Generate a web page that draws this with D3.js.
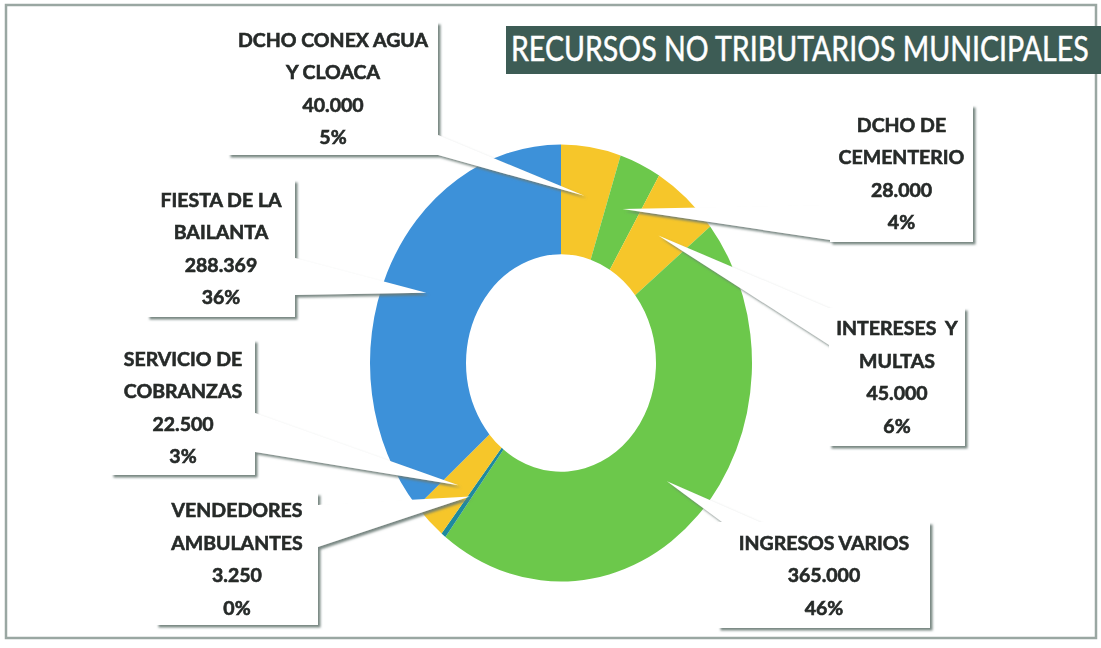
<!DOCTYPE html>
<html>
<head>
<meta charset="utf-8">
<script src="https://cdn.jsdelivr.net/npm/d3@7"></script>
<style>
  html, body { margin: 0; padding: 0; background: #ffffff; }
  svg { display: block; }
</style>
</head>
<body>
<svg id="chart" width="1101" height="648"></svg>
<script>
// ---------- data ----------
const title = "RECURSOS NO TRIBUTARIOS MUNICIPALES";
const categories = [
  "DCHO CONEX AGUA Y CLOACA",
  "DCHO DE CEMENTERIO",
  "INTERESES Y MULTAS",
  "INGRESOS VARIOS",
  "VENDEDORES AMBULANTES",
  "SERVICIO DE COBRANZAS",
  "FIESTA DE LA BAILANTA"
];
const labelLines = [
  ["DCHO CONEX AGUA", "Y CLOACA"],
  ["DCHO DE", "CEMENTERIO"],
  ["INTERESES  Y", "MULTAS"],
  ["INGRESOS VARIOS"],
  ["VENDEDORES", "AMBULANTES"],
  ["SERVICIO DE", "COBRANZAS"],
  ["FIESTA DE LA", "BAILANTA"]
];
const values = [40000, 28000, 45000, 365000, 3250, 22500, 288369];
const sliceColors = ["#F6C62A", "#6CC84B", "#F6C62A", "#6CC84B", "#1E8A9E", "#F6C62A", "#3D91D9"];

// ---------- layout (callout boxes and wedge bases) ----------
const calloutLayout = [
  { box: [228, 22, 438, 155], base: [[438, 135], [438, 155]] },
  { box: [830, 105, 973, 242], base: [[830, 205], [830, 240]] },
  { box: [829, 308, 965, 446], base: [[829, 308], [829, 345]] },
  { box: [718, 522, 930, 628], base: [[722, 522], [760, 522]] },
  { box: [156, 493, 318, 625], base: [[318, 505], [318, 547]] },
  { box: [111, 340, 255, 475], base: [[255, 413], [255, 452]] },
  { box: [147, 180, 295, 317], base: [[295, 258], [295, 295]] }
];

const W = 1101, H = 648;
const cx = 561, cy = 363, rOuter = 191, rInner = 95, sy = 1.144, rTip = 148;

const svg = d3.select("#chart");
const defs = svg.append("defs");
const f = defs.append("filter").attr("id", "shadow")
  .attr("x", "-10%").attr("y", "-10%").attr("width", "130%").attr("height", "130%");
f.append("feDropShadow").attr("dx", 2.5).attr("dy", 2.5).attr("stdDeviation", 1.2)
  .attr("flood-color", "#6a7a74").attr("flood-opacity", 0.9);
const tf = defs.append("filter").attr("id", "soft");
tf.append("feGaussianBlur").attr("stdDeviation", 0.35);

// background + frame
svg.append("rect").attr("width", W).attr("height", H).attr("fill", "#ffffff");
svg.append("rect").attr("x", 6).attr("y", 5).attr("width", 1090).attr("height", 633)
  .attr("fill", "none").attr("stroke", "#9aa7a2").attr("stroke-width", 2.5);

// title (fit the text width to the box, then stretch vertically to the cap height)
svg.append("rect").attr("x", 506).attr("y", 26).attr("width", 595).attr("height", 48)
  .attr("fill", "#3D5C55");
const titleTarget = 578, titleSize = 34;
const tg = svg.append("g");
const tt = tg.append("text").attr("x", 0).attr("y", 0)
  .attr("font-family", "Lato, 'Open Sans', sans-serif").attr("font-size", titleSize)
  .attr("fill", "#ffffff").attr("stroke", "#ffffff").attr("stroke-width", 0.4)
  .text(title);
const natural = tt.node().getComputedTextLength();
const fitSize = titleSize * titleTarget / natural;
tt.attr("font-size", fitSize);
tg.attr("transform", `translate(511,61) scale(1,${titleSize / fitSize})`);

// donut
const pie = d3.pie().sort(null).value(d => d)(values);
const arc = d3.arc().innerRadius(rInner).outerRadius(rOuter);
const donut = svg.append("g").attr("transform", `translate(${cx},${cy}) scale(1,${sy})`);
donut.selectAll("path").data(pie).join("path")
  .attr("d", arc)
  .attr("fill", (d, i) => sliceColors[i]);

// formatting
const loc = d3.formatLocale({ decimal: ",", thousands: ".", grouping: [3], currency: ["$", ""] });
const fmt = loc.format(",d");
const total = d3.sum(values);

// callouts
pie.forEach((p, i) => {
  const L = calloutLayout[i];
  const a = (p.startAngle + p.endAngle) / 2;
  const tip = [cx + rTip * Math.sin(a), cy - rTip * Math.cos(a) * sy];
  const g = svg.append("g").attr("filter", "url(#shadow)");
  const [x0, y0, x1, y1] = L.box;
  g.append("rect").attr("x", x0).attr("y", y0).attr("width", x1 - x0).attr("height", y1 - y0)
    .attr("fill", "#ffffff");
  g.append("path")
    .attr("d", d3.line()([L.base[0], tip, L.base[1]]) + "Z")
    .attr("fill", "#ffffff");

  const lines = labelLines[i].concat([fmt(values[i]), Math.round(values[i] / total * 100) + "%"]);
  const bx = (x0 + x1) / 2, byc = (y0 + y1) / 2, step = 32.5;
  const t = svg.append("text")
    .attr("font-family", "Lato, 'Open Sans', sans-serif")
    .attr("font-weight", 700).attr("font-size", 19.5)
    .attr("fill", "#262a29").attr("stroke", "#262a29").attr("stroke-width", 0.6)
    .attr("text-anchor", "middle")
    .attr("filter", "url(#soft)");
  lines.forEach((ln, k) => {
    t.append("tspan").attr("x", bx)
      .attr("y", byc + (k - (lines.length - 1) / 2) * step)
      .attr("dy", "0.36em")
      .attr("xml:space", "preserve")
      .text(ln);
  });
});
</script>
</body>
</html>
